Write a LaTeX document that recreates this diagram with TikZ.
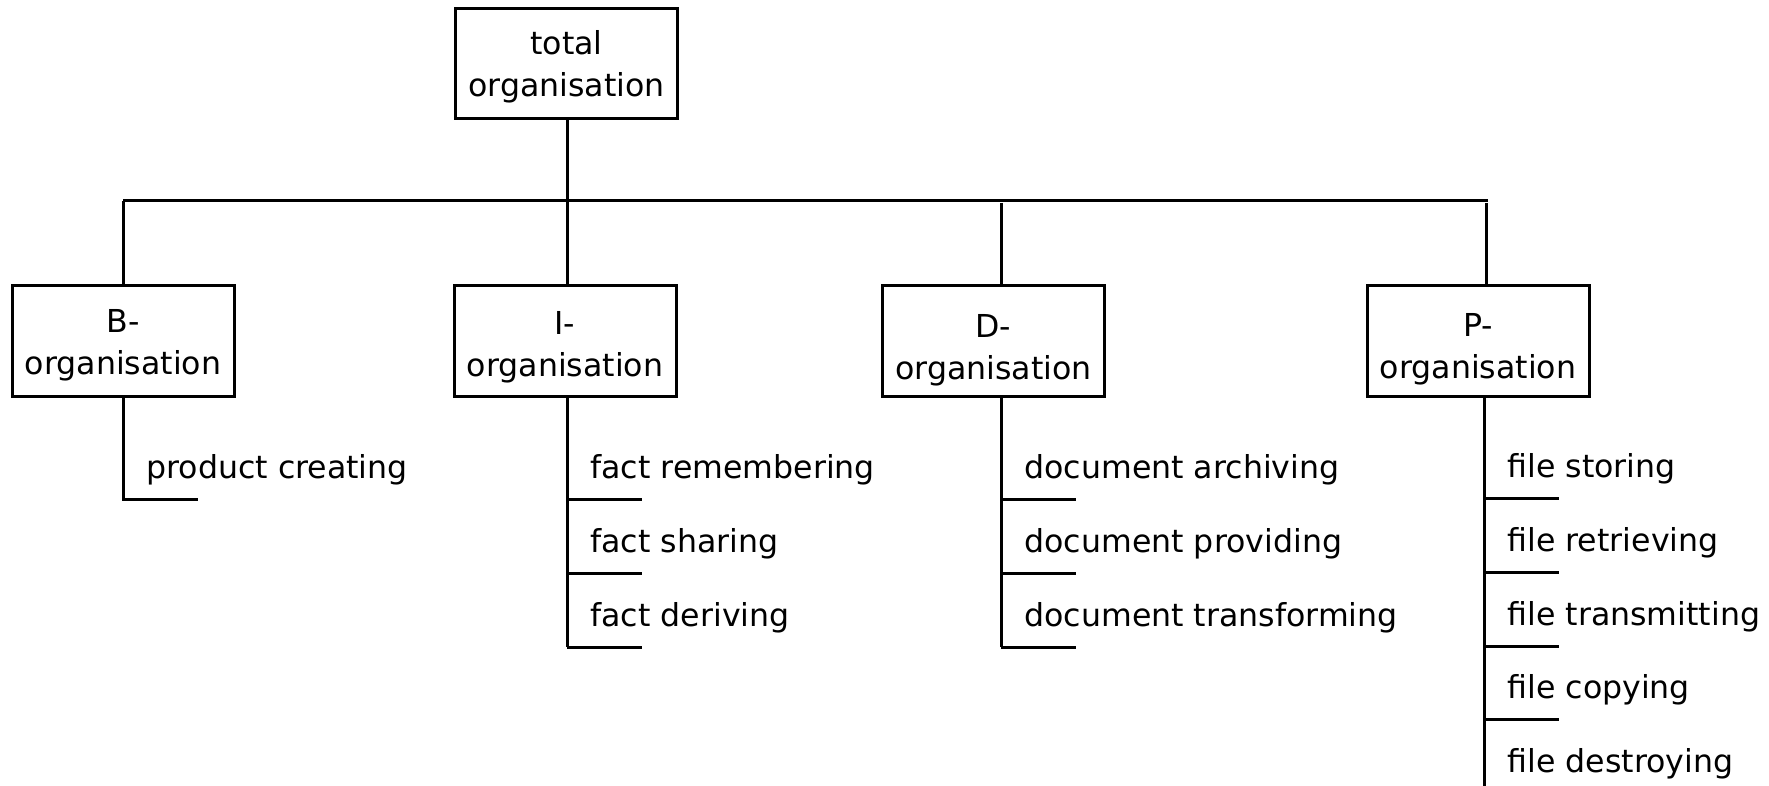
\documentclass[tikz,border=0pt]{standalone}
\usepackage{fontspec}
\setmainfont{DejaVu Sans}
% two centred lines of box text, lowered by #1 without changing the box size
\newcommand\orgtext[3]{\raisebox{#1}[\height][\depth]{\begin{tabular}{@{}c@{}}#2\\#3\end{tabular}}}
\begin{document}
\begin{tikzpicture}[x=0.5pt,y=-0.5pt,
  line width=1.5pt,
  txt/.style={font=\fontsize{15.8pt}{21pt}\selectfont},
  orgbox/.style={txt, draw, rectangle, inner sep=0pt,
    minimum width=111pt, minimum height=55.5pt},
  item/.style={txt, anchor=base west, inner sep=0pt}]
\useasboundingbox (0,0) rectangle (1769,786);

% boxes
\node[orgbox, minimum height=55pt] (T) at (566.5,64) {\orgtext{-1.8pt}{total}{organisation}};
\node[orgbox] (B) at (123,341.5) {\orgtext{-1.75pt}{B-}{organisation}};
\node[orgbox] (I) at (565,341.5) {\orgtext{-3pt}{I-}{organisation}};
\node[orgbox] (D) at (993.5,341.5) {\orgtext{-4.25pt}{D-}{organisation}};
\node[orgbox] (P) at (1478,341.5) {\orgtext{-4pt}{P-}{organisation}};

% branching bus
\coordinate (busB) at (123,201);
\coordinate (busI) at (567,201);
\coordinate (busD) at (1001,203);
\coordinate (busP) at (1486,203);
\coordinate (busE) at (1488,201);
\draw (T.south -| busI) -- (busI);
\draw (busB) -- (busE);
\draw (busB) -- (busB |- B.north);
\draw (busI) -- (busI |- I.north);
\draw (busD) -- (busD |- D.north);
\draw (busP) -- (busP |- P.north);

% B column
\coordinate (sB) at (123,397);
\coordinate (tB1) at (123,500);
\node[item] (lB1) at (145,479) {product creating};
\draw (sB) -- (tB1) -- ++(75,0);

% I column
\coordinate (sI) at (567,397);
\foreach \k/\lab in {1/fact remembering, 2/fact sharing, 3/fact deriving}{
  \coordinate (tI\k) at (567,{500+73.5*(\k-1)});
  \node[item] (lI\k) at (589,{479+73.5*(\k-1)}) {\lab};
  \draw (tI\k) -- ++(75,0);
}
\draw (sI) -- (tI3);

% D column
\coordinate (sD) at (1001,397);
\foreach \k/\lab in {1/document archiving, 2/document providing, 3/document transforming}{
  \coordinate (tD\k) at (1001,{500+73.5*(\k-1)});
  \node[item] (lD\k) at (1023,{479+73.5*(\k-1)}) {\lab};
  \draw (tD\k) -- ++(75,0);
}
\draw (sD) -- (tD3);

% P column
\coordinate (sP) at (1484,397);
\coordinate (eP) at (1484,786);
\foreach \k/\lab in {1/file storing, 2/file retrieving, 3/file transmitting, 4/file copying}{
  \coordinate (tP\k) at (1484,{499+73.5*(\k-1)});
  \node[item] (lP\k) at (1506,{478+73.5*(\k-1)}) {\lab};
  \draw (tP\k) -- ++(75,0);
}
\node[item] (lP5) at (1506,772) {file destroying};
\draw (sP) -- (eP);
\end{tikzpicture}
\end{document}
